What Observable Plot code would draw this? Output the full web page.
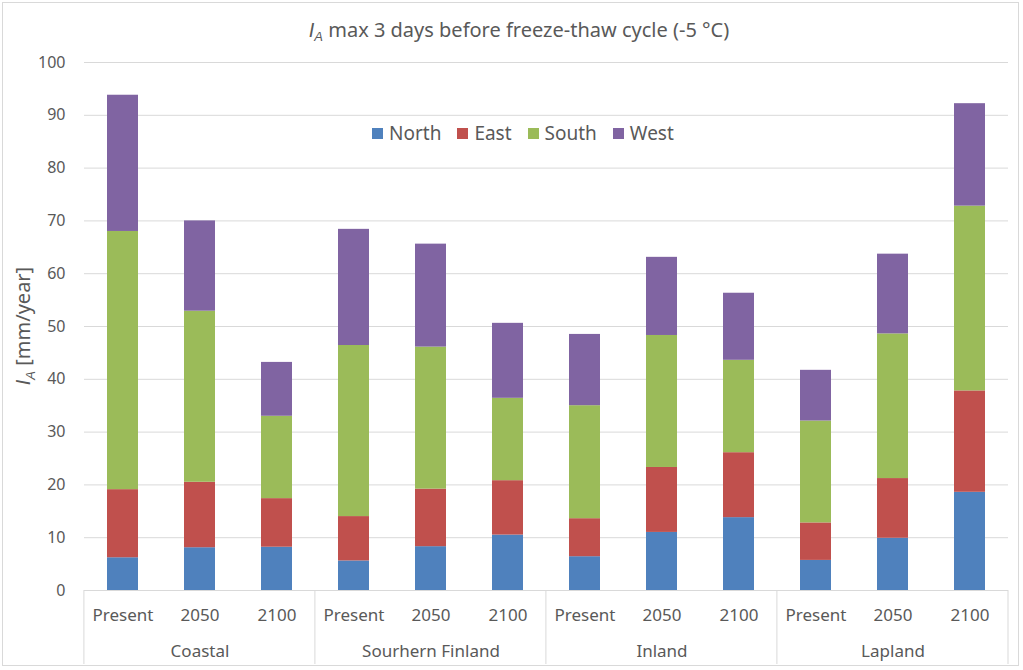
<!DOCTYPE html>
<html>
<head>
<meta charset="utf-8">
<script src="https://cdn.jsdelivr.net/npm/d3@7"></script>
<script src="https://cdn.jsdelivr.net/npm/@observablehq/plot@0.6"></script>
<style>
  html, body { margin: 0; padding: 0; background: #fff; }
  #wrap { position: relative; width: 1023px; height: 670px; overflow: hidden; font-family: 'Noto Sans', sans-serif; color: #595959; }
  #frame { position: absolute; left: 2px; top: 2px; width: 1017px; height: 664px; border: 1px solid #d9d9d9; box-sizing: border-box; pointer-events: none; }
  #title { position: absolute; left: 0; top: 15px; width: 1038px; text-align: center; font-size: 20px; line-height: 30px; }
  #title i { font-style: italic; font-family: 'Liberation Sans', sans-serif; }
  #title sub { font-size: 13px; vertical-align: -4px; line-height: 0; }
  #chart { position: absolute; left: 0; top: 50px; }
  #legend { position: absolute; left: 372px; top: 120px; display: flex; align-items: center; font-size: 19px; line-height: 26px; }
  #legend .item { display: flex; align-items: center; margin-right: 16px; }
  #legend .sw { width: 11px; height: 11px; margin-right: 6px; }
</style>
</head>
<body>
<div id="wrap">
  <div id="title"><i>I<sub>A</sub></i> max 3 days before freeze-thaw cycle (-5 °C)</div>
  <div id="chart"></div>
  <div id="legend"></div>
  <div id="frame"></div>
</div>
<script>
const groups = ["Coastal", "Sourhern Finland", "Inland", "Lapland"];
const periods = ["Present", "2050", "2100"];
const directions = ["North", "East", "South", "West"];
const colors = ["#4f81bd", "#c0504d", "#9bbb59", "#8064a2"];
const yTicks = [0, 10, 20, 30, 40, 50, 60, 70, 80, 90, 100];

// values per bar, order: Coastal(Present,2050,2100), Sourhern Finland(...), Inland(...), Lapland(...)
const north = [6.2, 8.1, 8.2,   5.6, 8.3, 10.5,   6.4, 11.0, 13.8,   5.7, 9.9, 18.6];
const east  = [12.9, 12.4, 9.2, 8.4, 10.9, 10.3,  7.2, 12.3, 12.3,   7.1, 11.3, 19.2];
const south = [48.9, 32.4, 15.6, 32.4, 26.9, 15.6, 21.4, 25.0, 17.5, 19.3, 27.4, 35.0];
const west  = [25.8, 17.1, 10.2, 22.0, 19.5, 14.2, 13.5, 14.8, 12.7, 9.6, 15.1, 19.4];

const series = [north, east, south, west];
const keys = [];
groups.forEach(g => periods.forEach(p => keys.push(g + "|" + p)));
const rows = [];
keys.forEach((k, i) => directions.forEach((d, j) => rows.push({key: k, dir: d, value: series[j][i]})));

const plot = Plot.plot({
  width: 1023,
  height: 620,
  marginLeft: 84,
  marginRight: 15,
  marginTop: 12,
  marginBottom: 80,
  style: {fontFamily: "'Noto Sans', sans-serif", fontSize: "16px", color: "#595959", background: "transparent"},
  x: {domain: keys, paddingInner: 0.6, paddingOuter: 0.3, axis: null},
  y: {domain: [0, 100], axis: null},
  color: {domain: directions, range: colors},
  marks: [
    Plot.gridY(yTicks.slice(1), {stroke: "#d9d9d9", strokeOpacity: 1, strokeWidth: 1}),
    Plot.barY(rows, {x: "key", y: "value", fill: "dir"}),
    Plot.ruleY([0], {stroke: "#d9d9d9", strokeWidth: 1}),
    Plot.axisY(yTicks, {tickSize: 0, tickPadding: 19, fontSize: 16, label: null}),
    Plot.axisX(keys, {tickSize: 0, tickPadding: 18, fontSize: 17, label: null, tickFormat: d => d.split("|")[1]}),
    Plot.text(groups, {x: g => g + "|2050", frameAnchor: "bottom", dy: 66, text: d => d, fontSize: 17, fill: "#595959"})
  ]
});
document.getElementById("chart").appendChild(plot);

// separators between groups below the axis
const sx = plot.scale("x");
const svg = d3.select(plot);
const step = sx.step !== undefined ? sx.step : (sx.range[1] - sx.range[0]) / keys.length;
const bounds = groups.map(g => sx.apply(g + "|Present") - 0.3 * step);
bounds.push(sx.range[1]);
const y0 = plot.scale("y").apply(0);
svg.append("g").selectAll("line").data(bounds).join("line")
  .attr("x1", d => d).attr("x2", d => d)
  .attr("y1", y0).attr("y2", y0 + 74)
  .attr("stroke", "#d9d9d9").attr("stroke-width", 1);

// y-axis label
const yl = svg.append("text")
  .attr("transform", `translate(30, ${(plot.scale("y").apply(0) + plot.scale("y").apply(100)) / 2}) rotate(-90)`)
  .attr("text-anchor", "middle")
  .attr("fill", "#595959")
  .style("font-size", "20px");
yl.append("tspan").attr("font-style", "italic").attr("font-family", "'Liberation Sans', sans-serif").text("I");
yl.append("tspan").attr("font-style", "italic").attr("font-family", "'Liberation Sans', sans-serif").attr("font-size", "13px").attr("dy", "5").text("A");
yl.append("tspan").attr("dy", "-5").text(" [mm/year]");

// legend
const lg = d3.select("#legend");
directions.forEach((d, i) => {
  const it = lg.append("div").attr("class", "item");
  it.append("div").attr("class", "sw").style("background", colors[i]);
  it.append("span").text(d);
});
</script>
</body>
</html>
